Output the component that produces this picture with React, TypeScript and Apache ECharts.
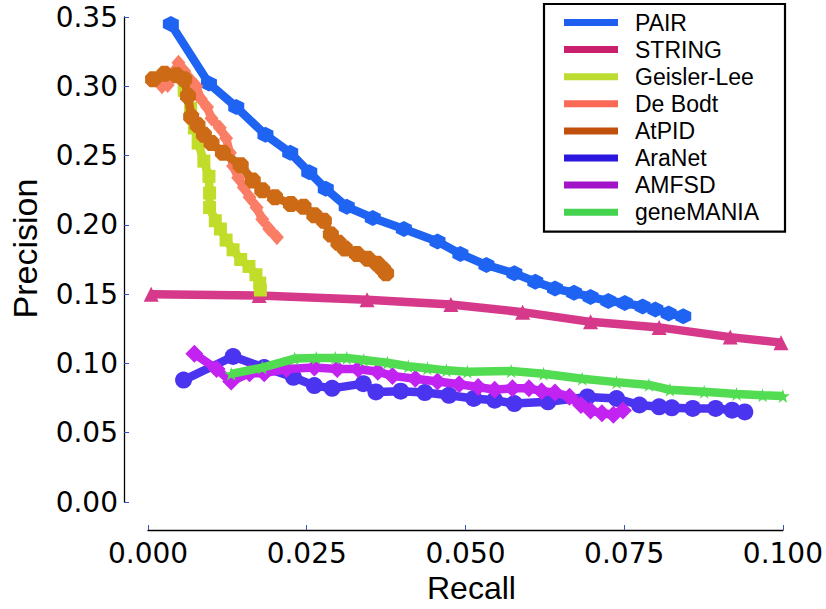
import React, { useEffect, useRef } from 'react';
import * as echarts from 'echarts';

// ---- data (recall, precision) ----
const PAIR = [
  [0.0036, 0.345], [0.0096, 0.302], [0.0139, 0.285], [0.0185, 0.265], [0.0224, 0.252],
  [0.0254, 0.238], [0.0280, 0.226], [0.0313, 0.213], [0.0354, 0.205], [0.0403, 0.197],
  [0.0456, 0.188], [0.0492, 0.179], [0.0533, 0.171], [0.0577, 0.165], [0.0610, 0.159],
  [0.0641, 0.154], [0.0671, 0.151], [0.0697, 0.148], [0.0725, 0.145], [0.0751, 0.1436],
  [0.0779, 0.141], [0.0799, 0.139], [0.0820, 0.136], [0.0843, 0.134],
];
const STRING = [
  [0.0005, 0.150], [0.0175, 0.149], [0.0345, 0.146], [0.0477, 0.1425], [0.0590, 0.137],
  [0.0697, 0.130], [0.0805, 0.126], [0.0917, 0.119], [0.0997, 0.115],
];
const GEISLER_LEE = [
  [0.0057, 0.297], [0.0067, 0.284], [0.0073, 0.270], [0.0079, 0.259], [0.0088, 0.246],
  [0.0096, 0.235], [0.0097, 0.223], [0.0097, 0.2125], [0.0106, 0.203], [0.0114, 0.197],
  [0.0123, 0.189], [0.0134, 0.182], [0.0146, 0.175], [0.0159, 0.170], [0.0170, 0.164],
  [0.0176, 0.158], [0.0177, 0.153],
];
const DE_BODT = [
  [0.0022, 0.300], [0.0031, 0.301], [0.0042, 0.311], [0.0048, 0.317], [0.0057, 0.311],
  [0.0066, 0.305], [0.0076, 0.300], [0.0083, 0.291], [0.0093, 0.285], [0.0100, 0.277],
  [0.0113, 0.270], [0.0123, 0.2625], [0.0129, 0.252], [0.0134, 0.2425], [0.0142, 0.234],
  [0.0151, 0.227], [0.0160, 0.220], [0.0171, 0.2125], [0.0180, 0.204], [0.0191, 0.197],
  [0.0203, 0.191],
];
const ATPID = [
  [0.0008, 0.305], [0.0026, 0.309], [0.0045, 0.308], [0.0057, 0.305], [0.0063, 0.293],
  [0.0068, 0.278], [0.0078, 0.272], [0.0088, 0.265], [0.0100, 0.259], [0.0118, 0.252],
  [0.0146, 0.243], [0.0165, 0.232], [0.0180, 0.225], [0.0200, 0.220], [0.0225, 0.215],
  [0.0245, 0.213], [0.0262, 0.207], [0.0277, 0.203], [0.0288, 0.193], [0.0300, 0.187],
  [0.0310, 0.183], [0.0329, 0.179], [0.0346, 0.1755], [0.0361, 0.172], [0.0370, 0.168],
  [0.0375, 0.165],
];
const ARANET = [
  [0.0056, 0.088], [0.0134, 0.105], [0.0183, 0.097], [0.0229, 0.090], [0.0262, 0.084],
  [0.0290, 0.082], [0.0339, 0.0854], [0.0359, 0.0794], [0.0398, 0.080], [0.0436, 0.079],
  [0.0474, 0.077], [0.0513, 0.0747], [0.0546, 0.0735], [0.0577, 0.071], [0.0630, 0.0723],
  [0.0692, 0.0758], [0.0738, 0.0747], [0.0774, 0.070], [0.0805, 0.0687], [0.0825, 0.068],
  [0.0858, 0.0675], [0.0894, 0.0675], [0.0920, 0.0663], [0.0940, 0.065],
];
const AMFSD = [
  [0.0073, 0.107], [0.0108, 0.096], [0.0131, 0.087], [0.0160, 0.093], [0.0183, 0.093],
  [0.0218, 0.096], [0.0262, 0.097], [0.0298, 0.096], [0.0331, 0.096], [0.0362, 0.094],
  [0.0385, 0.091], [0.0421, 0.089], [0.0456, 0.087], [0.0490, 0.085], [0.0520, 0.083],
  [0.0546, 0.081], [0.0574, 0.082], [0.0600, 0.082], [0.0620, 0.080], [0.0641, 0.079],
  [0.0664, 0.076], [0.0682, 0.070], [0.0697, 0.066], [0.0715, 0.064], [0.0733, 0.063],
  [0.0748, 0.066],
];
const GENEMANIA = [
  [0.0131, 0.0925], [0.0180, 0.097], [0.0231, 0.1035], [0.0265, 0.104], [0.0295, 0.104],
  [0.0313, 0.104], [0.0340, 0.1025], [0.0377, 0.1005], [0.0410, 0.098], [0.0440, 0.0965],
  [0.0470, 0.095], [0.0503, 0.094], [0.0572, 0.0945], [0.0623, 0.0925], [0.0684, 0.089],
  [0.0738, 0.0865], [0.0789, 0.0845], [0.0822, 0.081], [0.0876, 0.0795], [0.0927, 0.078],
  [0.0968, 0.077], [0.1000, 0.0765],
];

const SERIES_NAMES = ['PAIR', 'STRING', 'Geisler-Lee', 'De Bodt', 'AtPID', 'AraNet', 'AMFSD', 'geneMANIA'];
const SERIES_DATA = [PAIR, STRING, GEISLER_LEE, DE_BODT, ATPID, ARANET, AMFSD, GENEMANIA];
const X_TICKS = [0, 0.025, 0.05, 0.075, 0.1];
const Y_TICKS = [0, 0.05, 0.1, 0.15, 0.2, 0.25, 0.3, 0.35];

// ---- styles ----
const LINE_COLORS = ['#1f63f2', '#d6388a', '#c2dc2a', '#fa7d66', '#cd6a16', '#4b34f0', '#c223f0', '#52dc52'];
const LEGEND_COLORS = ['#1f5ff0', '#c91f6d', '#bcdc32', '#fb6a56', '#c0500c', '#2a16dc', '#a214c8', '#44d24f'];

const HEX = 'path://M0,-1 L0.866,-0.5 L0.866,0.5 L0,1 L-0.866,0.5 L-0.866,-0.5 Z';
const OCT = 'path://M-0.414,-1 L0.414,-1 L1,-0.414 L1,0.414 L0.414,1 L-0.414,1 L-1,0.414 L-1,-0.414 Z';
const STAR = 'path://M0,-1 L0.2245,-0.309 L0.951,-0.309 L0.363,0.118 L0.588,0.809 L0,0.382 L-0.588,0.809 L-0.363,0.118 L-0.951,-0.309 L-0.2245,-0.309 Z';
const SYMBOLS = [HEX, 'triangle', 'rect', 'diamond', OCT, 'circle', 'diamond', STAR];
const SYMBOL_SIZES: any[] = [16, 15, 13, [14, 16], 16, 17, 18, 14];

export default function App() {
  const ref = useRef<HTMLDivElement>(null);
  useEffect(() => {
    if (!ref.current) return;
    const chart = echarts.init(ref.current, null, { renderer: 'svg' });
    const tickFont = 'DejaVu Sans';
    const titleFont = 'Liberation Sans';
    chart.setOption({
      animation: false,
      backgroundColor: '#ffffff',
      grid: { left: 132.7, right: 42, top: 17, bottom: 101, containLabel: false },
      xAxis: {
        type: 'value',
        min: X_TICKS[0],
        max: X_TICKS[X_TICKS.length - 1],
        interval: 0.025,
        offset: 28,
        name: 'Recall',
        nameLocation: 'middle',
        nameGap: 42,
        nameTextStyle: { fontFamily: titleFont, fontSize: 32, color: '#000', padding: [0, 0, 0, 12] },
        axisLine: { show: true, onZero: false, lineStyle: { color: '#000', width: 1.3 } },
        axisTick: { show: true, inside: true, length: 5, lineStyle: { color: '#3550c0', width: 1 } },
        axisLabel: {
          fontFamily: tickFont, fontSize: 28, color: '#000', margin: 9,
          formatter: (v: number) => v.toFixed(3),
        },
        splitLine: { show: false },
      },
      yAxis: {
        type: 'value',
        min: Y_TICKS[0],
        max: Y_TICKS[Y_TICKS.length - 1],
        interval: 0.05,
        offset: 24,
        name: 'Precision',
        nameLocation: 'middle',
        nameGap: 82,
        nameRotate: 90,
        nameTextStyle: { fontFamily: titleFont, fontSize: 34, color: '#000', padding: [0, 0, 0, 22] },
        axisLine: { show: true, onZero: false, lineStyle: { color: '#000', width: 1.3 } },
        axisTick: { show: true, inside: true, length: 5, lineStyle: { color: '#3550c0', width: 1 } },
        axisLabel: {
          fontFamily: tickFont, fontSize: 28, color: '#000', margin: 6,
          formatter: (v: number) => v.toFixed(2),
        },
        splitLine: { show: false },
      },
      legend: {
        orient: 'vertical',
        left: 544,
        top: 4,
        padding: [7, 26, 8, 20],
        borderColor: '#000',
        borderWidth: 2.2,
        backgroundColor: '#fff',
        itemWidth: 54,
        itemHeight: 7,
        itemGap: 4.1,
        icon: 'rect',
        textStyle: { fontFamily: titleFont, fontSize: 23, color: '#000', lineHeight: 23, padding: [0, 0, 0, 12] },
        data: SERIES_NAMES.map((n, i) => ({ name: n, itemStyle: { color: LEGEND_COLORS[i] } })),
      },
      series: SERIES_NAMES.map((name, i) => ({
        name,
        type: 'line',
        data: SERIES_DATA[i],
        symbol: SYMBOLS[i],
        symbolSize: SYMBOL_SIZES[i],
        showSymbol: true,
        lineStyle: { color: LINE_COLORS[i], width: 8.5 },
        itemStyle: { color: LINE_COLORS[i], borderWidth: 0 },
        emphasis: { disabled: true },
        z: 2 + i,
      })),
    });
    return () => chart.dispose();
  }, []);
  return <div ref={ref} style={{ position: 'absolute', left: 0, top: 0, width: 826, height: 609 }} />;
}
